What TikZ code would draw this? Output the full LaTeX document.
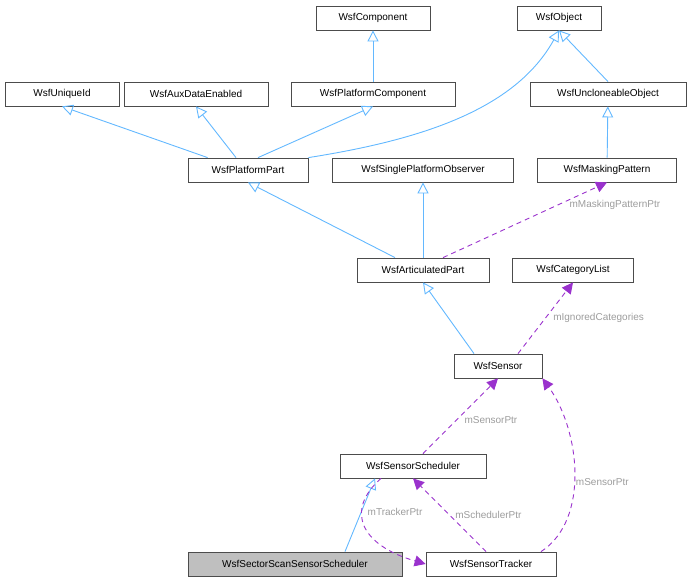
\documentclass[tikz,border=0pt]{standalone}
\usepackage{fontspec}
\setmainfont{Liberation Sans}
\usetikzlibrary{arrows.meta}
\definecolor{inhblue}{HTML}{63B8FF}
\definecolor{usepurple}{HTML}{9A32CD}
\definecolor{lblgray}{HTML}{9C9C9C}
\tikzset{
  cls/.style={draw=black!70,fill=white,line width=0.8pt,minimum height=24pt,inner sep=0pt,font=\fontsize{10}{11}\selectfont},
  inh/.style={draw=inhblue,line width=0.9pt,-{Triangle[open,length=11pt,width=11pt]}},
  use/.style={draw=usepurple,line width=0.9pt,dash pattern=on 5pt off 4pt,-{Triangle[length=11pt,width=11pt]}},
  lbl/.style={text=lblgray,font=\fontsize{10}{11}\selectfont}
}
\begin{document}
\begin{tikzpicture}[x=1pt,y=-1pt]
  \useasboundingbox (0,0) rectangle (690,584);

  % Classes
  \node[cls,minimum width=114pt] (comp) at (373,18) {WsfComponent};
  \node[cls,minimum width=84pt] (obj) at (559,18) {WsfObject};
  \node[cls,minimum width=114pt] (uid) at (62,94) {WsfUniqueId};
  \node[cls,minimum width=144pt] (aux) at (196,94) {WsfAuxDataEnabled};
  \node[cls,minimum width=164pt] (pcomp) at (373,94) {WsfPlatformComponent};
  \node[cls,minimum width=156pt] (uncl) at (608,94) {WsfUncloneableObject};
  \node[cls,minimum width=120pt] (ppart) at (248,170) {WsfPlatformPart};
  \node[cls,minimum width=181pt] (spo) at (423,170) {WsfSinglePlatformObserver};
  \node[cls,minimum width=139pt] (mask) at (607,170) {WsfMaskingPattern};
  \node[cls,minimum width=132pt] (apart) at (423,270) {WsfArticulatedPart};
  \node[cls,minimum width=121pt] (cat) at (573,270) {WsfCategoryList};
  \node[cls,minimum width=88pt] (sensor) at (498,366) {WsfSensor};
  \node[cls,minimum width=146pt] (sched) at (413,466) {WsfSensorScheduler};
  \node[cls,minimum width=214pt,fill=black!25] (sector) at (295,564) {WsfSectorScanSensorScheduler};
  \node[cls,minimum width=130pt] (track) at (491,564) {WsfSensorTracker};

  % Inheritance
  \draw[inh] (pcomp) -- (comp);
  \draw[inh] (uncl.north) -- (obj.south);
  \draw[inh] (mask) -- (uncl);
  \draw[inh] (ppart.north west) ++(20,0) -- (uid.south);
  \draw[inh] (ppart.north) ++(-12,0) -- (aux.south);
  \draw[inh] (ppart.north) ++(10,0) -- (pcomp.south);
  \draw[inh] (ppart.north east) .. controls (420,140) and (515,110) .. (obj.south);
  \draw[inh] (apart.north) ++(-28,0) -- (ppart.south);
  \draw[inh] (apart) -- (spo);
  \draw[inh] (sensor.north) ++(-24,0) -- (apart.south);
  \draw[inh] (sector.north) ++(50,0) -- ([xshift=-38pt]sched.south);

  % Usage
  \draw[use] (apart.north) ++(20,0) -- node[lbl,pos=0.7,right=8pt] {mMaskingPatternPtr} (mask.south);
  \draw[use] (sensor.north) ++(20,0) -- node[lbl,pos=0.5,right=4pt] {mIgnoredCategories} (cat.south);
  \draw[use] (sched.north) ++(10,0) -- node[lbl,pos=0.45,right=4pt] {mSensorPtr} (sensor.south);
  \draw[use] (track.north) ++(50,0) .. controls (590,520) and (580,430) .. node[lbl,pos=0.45,right=-2pt] {mSensorPtr} (sensor.south east);
  \draw[use] (track.north) ++(-5,0) -- node[lbl,pos=0.5,right=2pt] {mSchedulerPtr} (sched.south);
  \draw[use] ([xshift=-32pt]sched.south) .. controls (345,510) and (360,545) .. node[lbl,pos=0.35,right=2pt] {mTrackerPtr} (track.west);
\end{tikzpicture}
\end{document}
